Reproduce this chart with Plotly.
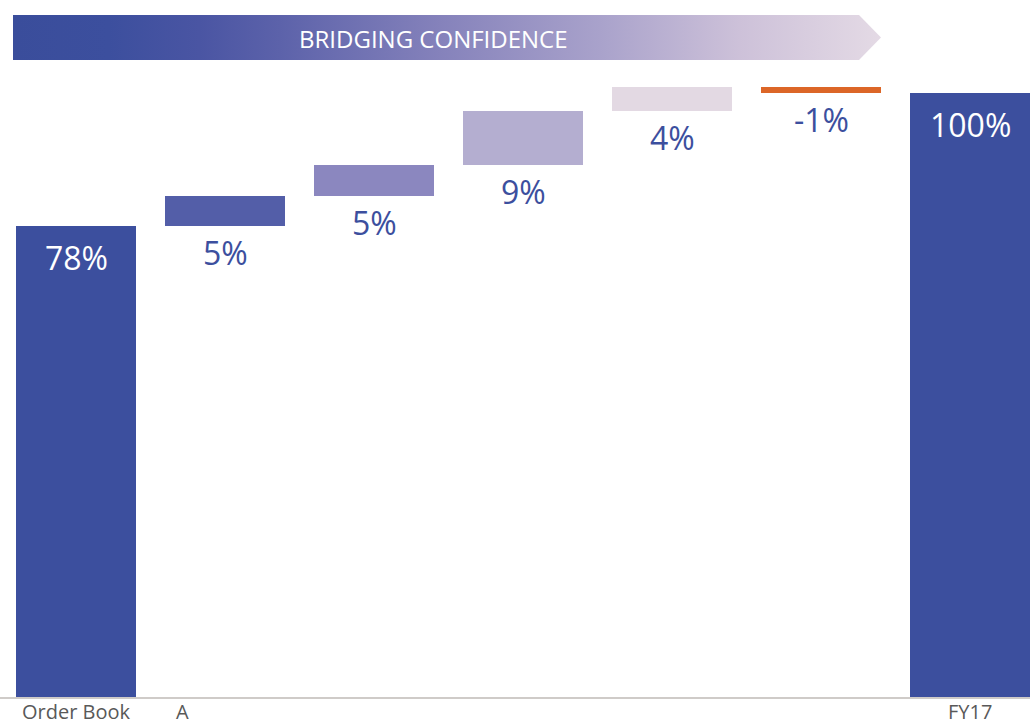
import plotly.graph_objects as go

# Bridge from order book to full-year figure (percent of FY17 target)
categories = ["Order Book", "A", "", "", "", "", "FY17"]
start_value = 78
steps = [5, 5, 9, 4, -1]
end_value = 100
bar_colors = ["#3c4f9e", "#535ea8", "#8b87bf", "#b4aed0", "#e3d9e3", "#dc6627", "#3c4f9e"]
label_positions = [0, 0.71, 6]
axis_labels = ["Order Book", "A", "FY17"]
banner_text = "BRIDGING CONFIDENCE"

# Build bar bases and heights from the running total
bases, heights = [0], [start_value]
running = start_value
for s in steps:
    bases.append(running)
    heights.append(s)
    running += s
bases.append(0)
heights.append(end_value)
xs = list(range(len(categories)))

BLUE = "#3c4f9e"
FONT = "Open Sans"
FIG_H = 726
PLOT_H = 697          # pixel height of the plotting area
PX_PER_PCT = 6.04     # vertical scale

fig = go.Figure()
fig.add_trace(go.Bar(
    x=xs, y=heights, base=bases, width=0.805,
    marker=dict(color=bar_colors, line=dict(width=0)),
    hoverinfo="skip", showlegend=False,
))

# Value labels: totals inside the bar top in white, steps below the step bar
for i, (b, h) in enumerate(zip(bases, heights)):
    is_total = i == 0 or i == len(xs) - 1
    if is_total:
        fig.add_annotation(x=i, y=b + h, text=f"{h}%", showarrow=False,
                           yanchor="top", yshift=-8,
                           font=dict(family=FONT, size=32, color="white"))
    else:
        low = min(b, b + h)
        fig.add_annotation(x=i, y=low, text=f"{h}%", showarrow=False,
                           yanchor="top", yshift=-3,
                           font=dict(family=FONT, size=32, color=BLUE))

# Category labels along the baseline, kept inside the bottom margin
for pos, lab in zip(label_positions, axis_labels):
    fig.add_annotation(x=pos, y=0, xref="x", yref="paper", text=lab,
                       showarrow=False, yanchor="bottom", yshift=-(FIG_H - PLOT_H),
                       borderpad=0,
                       font=dict(family=FONT, size=20, color="#595959"))

# Gradient arrow banner drawn in pixel-like overlay coordinates
banner_x = [13, 859, 881, 859, 13, 13]
banner_y = [15, 15, 37.5, 60, 60, 15]
fig.add_trace(go.Scatter(
    x=banner_x, y=banner_y, xaxis="x2", yaxis="y2",
    mode="lines", line=dict(width=0), fill="toself",
    fillgradient=dict(type="horizontal", colorscale=[
        [0.0, "#3a4d9b"], [0.11, "#3c4f9e"], [0.215, "#4a55a3"],
        [0.307, "#5c62aa"], [0.492, "#8582bb"], [0.676, "#a9a2cb"],
        [0.837, "#cdc1d9"], [1.0, "#e4dae5"],
    ]),
    hoverinfo="skip", showlegend=False,
))
fig.add_annotation(x=433, y=38.5, xref="x2", yref="y2", text=banner_text,
                   showarrow=False, font=dict(family=FONT, size=24, color="white"))

fig.update_layout(
    width=1030, height=FIG_H,
    margin=dict(l=0, r=0, t=0, b=FIG_H - PLOT_H, autoexpand=False),
    paper_bgcolor="white", plot_bgcolor="white",
    bargap=0,
    xaxis=dict(range=[-0.513, 6.4], showticklabels=False,
               showgrid=False, zeroline=False, showline=True, linecolor="#cfcbc8",
               linewidth=2, ticks="", automargin=False),
    yaxis=dict(range=[0, PLOT_H / PX_PER_PCT], visible=False, showgrid=False,
               zeroline=False, automargin=False),
    xaxis2=dict(range=[0, 1030], overlaying="x", visible=False, fixedrange=True),
    yaxis2=dict(range=[PLOT_H, 0], overlaying="y", visible=False, fixedrange=True),
)

fig.write_html("out.html")
